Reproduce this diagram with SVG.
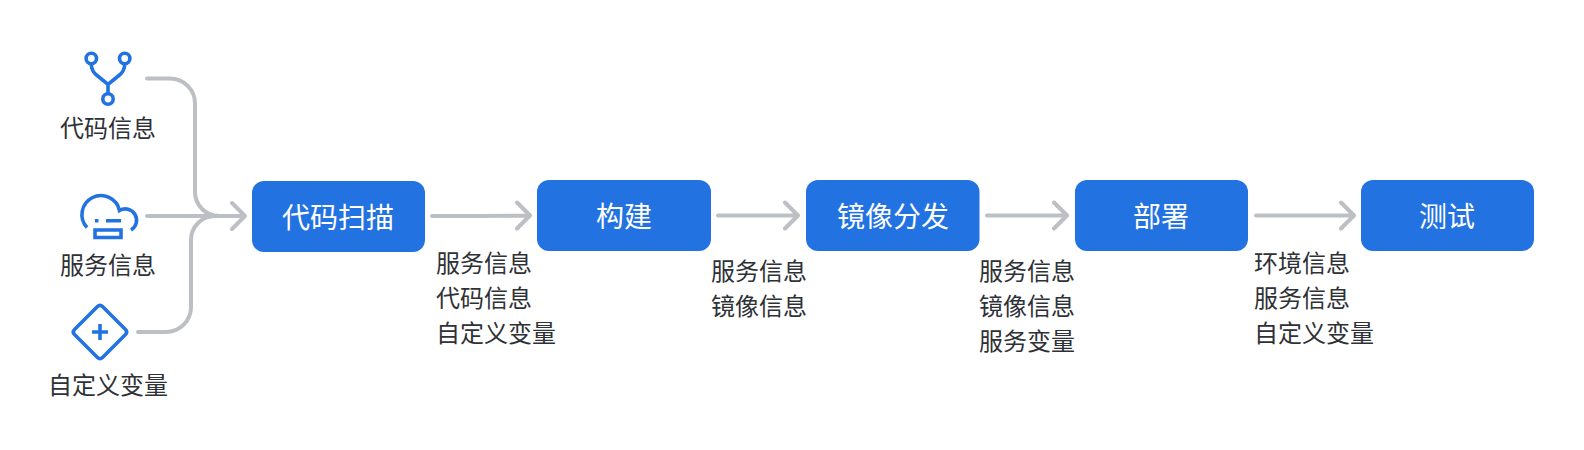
<svg xmlns="http://www.w3.org/2000/svg" width="1584" height="450" viewBox="0 0 1584 450">
<style>
.bg{fill:#fff}
.c{fill:none;stroke:#bcbfc3;stroke-width:4;stroke-linecap:round;stroke-linejoin:round}
.b{fill:#2272e2}
.i{fill:none;stroke:#2272e2;stroke-width:3.6}
.t{font-family:"Noto Sans CJK SC","Liberation Sans",sans-serif;font-size:24px;fill:#2e3136;text-anchor:middle}
.l{font-family:"Noto Sans CJK SC","Liberation Sans",sans-serif;font-size:24px;fill:#2e3136}
.w{font-family:"Noto Sans CJK SC","Liberation Sans",sans-serif;font-size:28px;fill:#fff;text-anchor:middle}
</style>
<rect class="bg" width="1584" height="450"/>
<g id="connectors">
<path class="c" d="M147 78.500H170A25 25 0 0 1 195 103.500V192A24 24 0 0 0 219 216"/>
<path class="c" d="M147 216H245M232 203L245 216L232 229"/>
<path class="c" d="M138 332H166A25 25 0 0 0 191 307V240A24 24 0 0 1 215 216"/>
<path class="c" d="M432 216H480L530 215.500M517 202.500L530 215.500L517 228.500"/>
<path class="c" d="M718 215.500H798M785 202.500L798 215.500L785 228.500"/>
<path class="c" d="M987 215.500H1067M1054 202.500L1067 215.500L1054 228.500"/>
<path class="c" d="M1256 215.500H1354M1341 202.500L1354 215.500L1341 228.500"/>
</g>
<g id="src-code">
<g class="i" stroke-linecap="round">
<circle cx="91.300" cy="58.500" r="5.200"/><circle cx="124.700" cy="58.500" r="5.200"/><circle cx="108" cy="99" r="5.200"/>
<path d="M91.300 64.500Q91.500 71 96.500 75L108 84.500L119.500 75Q124.500 71 124.700 64.500M108 84.500V93"/>
</g>
<text class="t" x="108" y="137">代码信息</text>
</g>
<g id="src-service">
<path class="i" d="M87 227.500A19 19 0 1 1 119.500 210.500A11 11 0 0 1 131 230" stroke-width="3.800"/>
<path class="i" d="M95 220.700H98.500M106 220.700H121M95 230H121V237.500H95Z"/>
<text class="t" x="108" y="274">服务信息</text>
</g>
<g id="src-custom">
<path class="i" d="M97.500 306.500Q100 304 102.500 306.500L125.500 329.500Q128 332 125.500 334.500L102.500 357.500Q100 360 97.500 357.500L74.500 334.500Q72 332 74.500 329.500Z" stroke-linejoin="round"/>
<path class="i" d="M92 332H108M100 324V340" stroke-width="4"/>
<text class="t" x="108" y="394">自定义变量</text>
</g>
<g id="n1"><rect class="b" x="252" y="181" width="173" height="71" rx="12"/><text class="w" x="338" y="228">代码扫描</text></g>
<g id="n2"><rect class="b" x="537" y="180" width="174" height="71" rx="12"/><text class="w" x="624" y="227">构建</text></g>
<g id="n3"><rect class="b" x="806" y="180" width="173.500" height="71" rx="12"/><text class="w" x="893" y="227">镜像分发</text></g>
<g id="n4"><rect class="b" x="1075" y="180" width="173" height="71" rx="12"/><text class="w" x="1161" y="227">部署</text></g>
<g id="n5"><rect class="b" x="1361" y="180" width="173" height="71" rx="12"/><text class="w" x="1447" y="227">测试</text></g>
<g id="labels">
<text class="l" x="436" y="272">服务信息</text><text class="l" x="436" y="307">代码信息</text><text class="l" x="436" y="342">自定义变量</text>
<text class="l" x="711" y="280">服务信息</text><text class="l" x="711" y="315">镜像信息</text>
<text class="l" x="979" y="280">服务信息</text><text class="l" x="979" y="315">镜像信息</text><text class="l" x="979" y="350">服务变量</text>
<text class="l" x="1254" y="272">环境信息</text><text class="l" x="1254" y="307">服务信息</text><text class="l" x="1254" y="342">自定义变量</text>
</g>
</svg>
